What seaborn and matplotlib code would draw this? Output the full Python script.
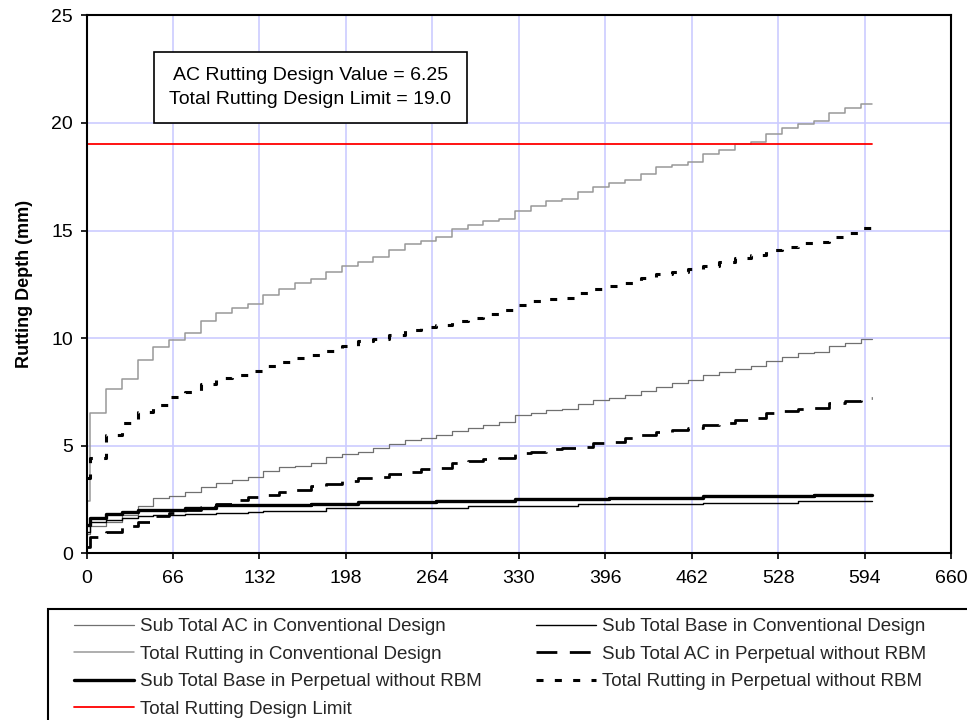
import matplotlib
matplotlib.use("Agg")
import matplotlib.pyplot as plt
import seaborn as sns
from matplotlib.patches import Rectangle


# =-=-=-=-=-=-=-=-=-=-=-=-=-=-=-=-=-=-=-=-=-=-=-=-=-=-=-=-=-
# Data (x in months, one rise per year)
#
months = [0] + list(range(3, 600, 12)) + [600]

sub_ac_conv = [0.9, 1.25, 1.45, 1.75, 2.2, 2.55, 2.65, 2.85, 3.05, 3.25, 3.4,
               3.52, 3.8, 3.98, 4.05, 4.2, 4.45, 4.6, 4.72, 4.88, 5.05,
               5.25, 5.33, 5.5, 5.68, 5.8, 5.95, 6.1, 6.4, 6.5, 6.65,
               6.7, 6.93, 7.13, 7.2, 7.35, 7.55, 7.73, 7.9, 8.04, 8.3,
               8.43, 8.58, 8.69, 8.94, 9.12, 9.28, 9.35, 9.62, 9.75, 9.95]

sub_base_conv = [1.0, 1.45, 1.55, 1.62, 1.7, 1.77, 1.77, 1.8, 1.8, 1.85, 1.85,
                 1.9, 1.95, 1.95, 1.95, 1.95, 2.08, 2.08, 2.08, 2.08, 2.08,
                 2.08, 2.08, 2.08, 2.08, 2.18, 2.18, 2.18, 2.18, 2.18, 2.18,
                 2.18, 2.26, 2.26, 2.26, 2.26, 2.26, 2.26, 2.26, 2.26, 2.35,
                 2.35, 2.35, 2.35, 2.35, 2.35, 2.4, 2.4, 2.4, 2.4, 2.4]

total_conv = [2.4, 6.5, 7.65, 8.1, 9.0, 9.6, 9.9, 10.25, 10.8, 11.15, 11.4,
              11.6, 12.0, 12.3, 12.55, 12.75, 13.05, 13.35, 13.55, 13.75, 14.1,
              14.35, 14.5, 14.7, 15.05, 15.25, 15.45, 15.55, 15.9, 16.15, 16.35,
              16.45, 16.8, 17.0, 17.2, 17.35, 17.65, 17.95, 18.05, 18.2, 18.55,
              18.75, 19.0, 19.1, 19.5, 19.75, 19.95, 20.1, 20.45, 20.7, 20.9]

sub_ac_perp = [0.3, 0.75, 1.0, 1.25, 1.45, 1.7, 1.85, 2.0, 2.15, 2.3, 2.45,
               2.6, 2.7, 2.85, 2.95, 3.1, 3.2, 3.33, 3.47, 3.55, 3.67,
               3.78, 3.92, 3.97, 4.17, 4.28, 4.37, 4.43, 4.64, 4.7, 4.82,
               4.87, 4.95, 5.1, 5.18, 5.33, 5.49, 5.61, 5.7, 5.8, 5.95,
               6.06, 6.19, 6.26, 6.5, 6.62, 6.68, 6.73, 6.96, 7.08, 7.2]

sub_base_perp = [1.3, 1.65, 1.8, 1.92, 2.0, 2.0, 2.0, 2.1, 2.1, 2.25, 2.25,
                 2.25, 2.25, 2.25, 2.25, 2.3, 2.3, 2.3, 2.38, 2.38, 2.38,
                 2.38, 2.38, 2.43, 2.43, 2.43, 2.43, 2.43, 2.5, 2.5, 2.5,
                 2.5, 2.5, 2.5, 2.57, 2.57, 2.57, 2.57, 2.57, 2.57, 2.65,
                 2.65, 2.65, 2.65, 2.65, 2.65, 2.65, 2.7, 2.7, 2.7, 2.7]

total_perp = [3.5, 4.4, 5.5, 6.05, 6.55, 6.9, 7.25, 7.5, 7.85, 8.15, 8.3,
              8.45, 8.7, 8.9, 9.05, 9.2, 9.4, 9.65, 9.87, 9.95, 10.15,
              10.35, 10.5, 10.6, 10.78, 10.95, 11.12, 11.28, 11.53, 11.7, 11.8,
              11.88, 12.1, 12.3, 12.42, 12.58, 12.8, 12.97, 13.08, 13.2, 13.35,
              13.55, 13.7, 13.85, 14.08, 14.25, 14.4, 14.48, 14.7, 14.9, 15.1]

limit_x = [0, 600]
limit_y = [19.0, 19.0]

x_ticks = list(range(0, 661, 66))
y_ticks = [0, 5, 10, 15, 20, 25]


# =-=-=-=-=-=-=-=-=-=-=-=-=-=-=-=-=-=-=-=-=-=-=-=-=-=-=-=-=-
# Styling
#
sns.set_theme(style="white")
plt.rcParams["font.family"] = ["Liberation Sans", "DejaVu Sans"]

fig = plt.figure(figsize=(9.67, 7.2), dpi=100)
ax  = fig.add_axes([0.0895, 0.2319, 0.894, 0.7466])

series = [
    ("Sub Total AC in Conventional Design",     sub_ac_conv,   dict(color="#707070", linewidth=0.9, linestyle="-")),
    ("Sub Total Base in Conventional Design",   sub_base_conv, dict(color="black",   linewidth=1.0, linestyle="-")),
    ("Total Rutting in Conventional Design",    total_conv,    dict(color="#989898", linewidth=1.1, linestyle="-")),
    ("Sub Total AC in Perpetual without RBM",   sub_ac_perp,   dict(color="black",   linewidth=2.0, linestyle=(0, (7.5, 4.5)))),
    ("Sub Total Base in Perpetual without RBM", sub_base_perp, dict(color="black",   linewidth=2.4, linestyle="-")),
    ("Total Rutting in Perpetual without RBM",  total_perp,    dict(color="black",   linewidth=2.2, linestyle=(0, (2.3, 3.7)))),
]

for name, vals, kw in series:
    sns.lineplot(x=months, y=vals + vals[-1:], ax=ax, label=name,
                 drawstyle="steps-post", **kw)

sns.lineplot(x=limit_x, y=limit_y, ax=ax, label="Total Rutting Design Limit",
             color="#ff0000", linewidth=1.3)

if ax.get_legend() is not None:
    ax.get_legend().remove()

ax.set_xlim(0, 660)
ax.set_ylim(0, 25)
ax.set_xticks(x_ticks)
ax.set_yticks(y_ticks)
ax.grid(True, color="#ccccff", linewidth=1.2)
ax.set_axisbelow(True)

for sp in ax.spines.values():
    sp.set_color("black")
    sp.set_linewidth(1.5)
    sp.set_visible(True)

ax.tick_params(axis="both", which="both", direction="out", length=4.3,
               width=1.2, color="black", labelsize=14, labelcolor="black",
               bottom=True, left=True)
ax.tick_params(axis="y", pad=5.5)
ax.tick_params(axis="x", pad=8)

ax.set_xlabel("")
ax.set_ylabel("Rutting Depth (mm)", fontsize=13, fontweight="bold",
              labelpad=13, color="black")

ax.text(0.259, 0.866,
        "AC Rutting Design Value = 6.25\nTotal Rutting Design Limit = 19.0",
        transform=ax.transAxes, ha="center", va="center", fontsize=14,
        linespacing=1.5, color="black",
        bbox=dict(boxstyle="square,pad=0.8", facecolor="white",
                  edgecolor="black", linewidth=1.2))

# legend box (runs past the right and bottom edges like the original)
fig.patches.append(Rectangle((48 / 967, -0.1), 1.0, 0.1 + (720 - 609) / 720,
                             transform=fig.transFigure, fill=False,
                             edgecolor="black", linewidth=1.5))

# the original reads row by row; matplotlib fills column by column
handles, labels = ax.get_legend_handles_labels()
order = [0, 2, 4, 6, 1, 3, 5]
fig.legend([handles[i] for i in order], [labels[i] for i in order],
           ncol=2, loc="upper left",
           bbox_to_anchor=(74 / 967, 1 - 618 / 720), frameon=False,
           borderpad=0, borderaxespad=0, fontsize=13.5,
           handlelength=3.2, handletextpad=0.32, columnspacing=2.88,
           labelspacing=0.56)

fig.savefig("out.png", dpi=100)
